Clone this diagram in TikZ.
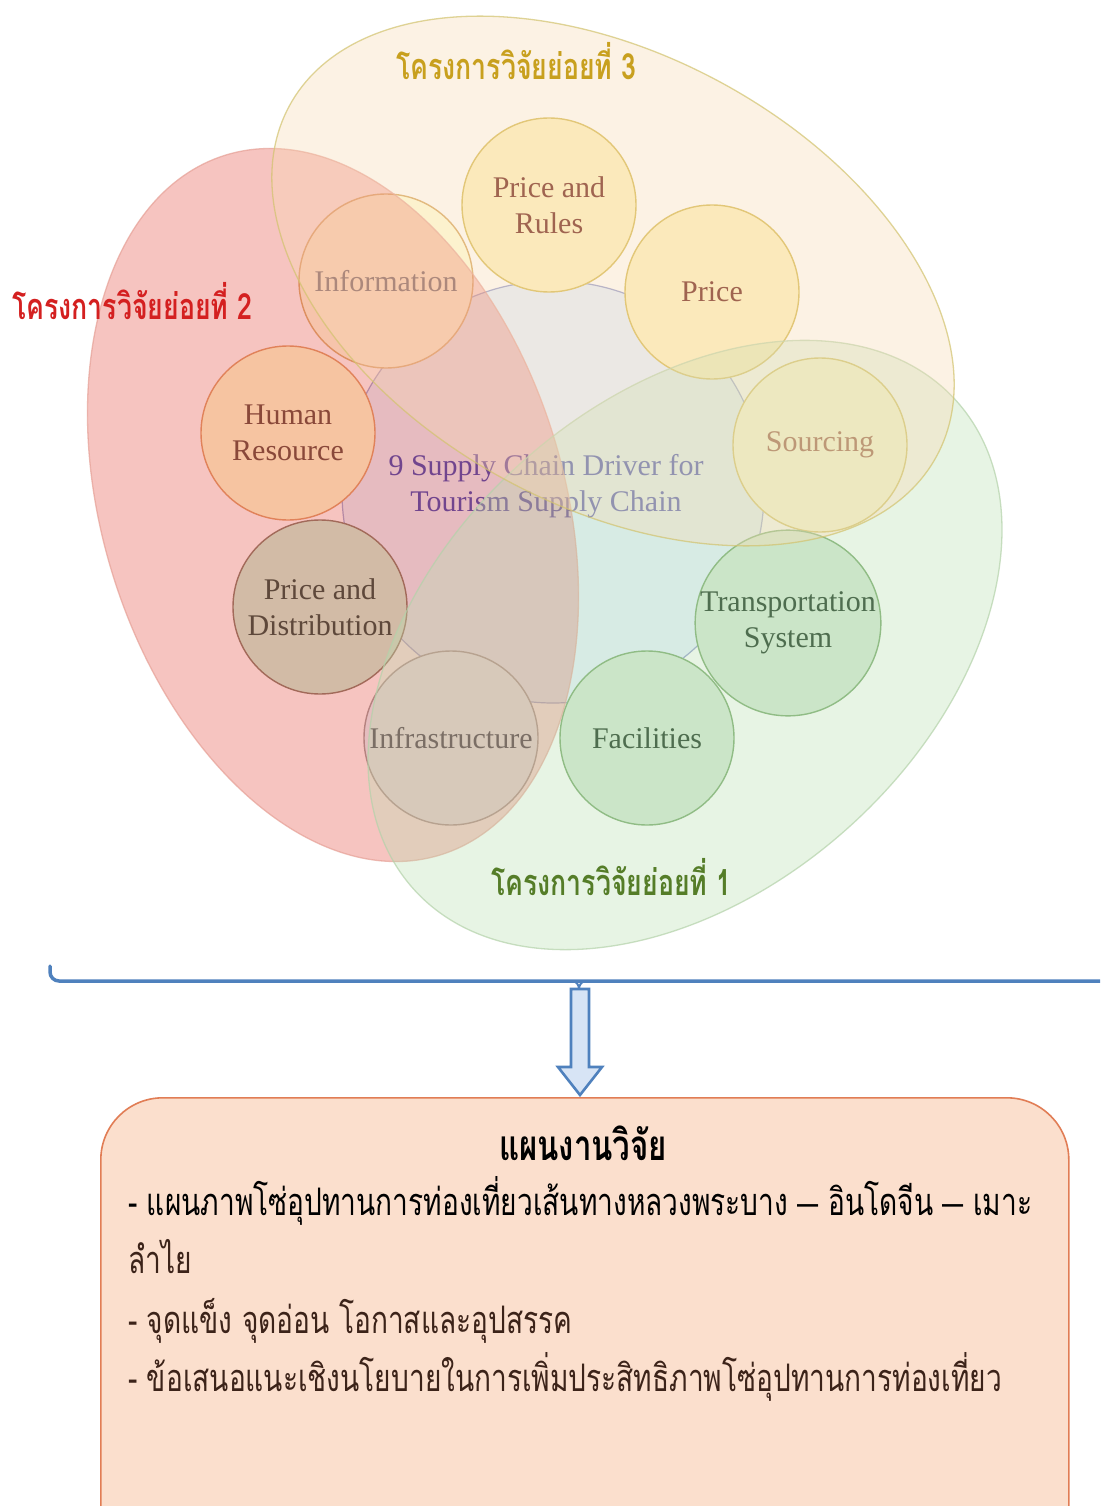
\documentclass[tikz,border=0pt]{standalone}
\usepackage{fontspec}
\usepackage{graphicx}
\setmainfont{Liberation Serif}
\newfontfamily\thai[Script=Thai,FakeStretch=0.74]{Loma}
\newfontfamily\lsans{Liberation Sans}
\usetikzlibrary{calc}
\definecolor{cenfill}{RGB}{229,241,255}
\definecolor{cenline}{RGB}{150,160,210}
\definecolor{yelfill}{RGB}{253,242,193}
\definecolor{yelline}{RGB}{215,190,90}
\definecolor{yeltxt}{RGB}{112,37,28}
\definecolor{srcfill}{RGB}{255,250,212}
\definecolor{srctxt}{RGB}{140,60,40}
\definecolor{inffill}{RGB}{255,255,222}
\definecolor{infline}{RGB}{215,170,100}
\definecolor{inftxt}{RGB}{70,90,100}
\definecolor{hrfill}{RGB}{255,255,205}
\definecolor{hrline}{RGB}{220,150,90}
\definecolor{hrtxt}{RGB}{80,55,38}
\definecolor{pdfill}{RGB}{197,242,213}
\definecolor{pdline}{RGB}{120,110,90}
\definecolor{pdtxt}{RGB}{10,55,40}
\definecolor{irfill}{RGB}{228,245,254}
\definecolor{irline}{RGB}{150,150,150}
\definecolor{irtxt}{RGB}{0,20,44}
\definecolor{grfill}{RGB}{212,233,212}
\definecolor{grline}{RGB}{120,170,110}
\definecolor{grtxt}{RGB}{20,48,27}
\definecolor{ctxt}{RGB}{40,50,175}
\definecolor{redov}{RGB}{232,100,90}
\definecolor{redln}{RGB}{230,160,150}
\definecolor{greenov}{RGB}{189,224,178}
\definecolor{greenln}{RGB}{180,210,170}
\definecolor{creamov}{RGB}{249,218,178}
\definecolor{creamln}{RGB}{210,195,110}
\definecolor{labthree}{RGB}{200,160,30}
\definecolor{labtwo}{RGB}{212,32,32}
\definecolor{labone}{RGB}{85,125,40}
\definecolor{bracketblue}{RGB}{79,129,189}
\definecolor{arrowfill}{RGB}{215,228,245}
\definecolor{planfill}{RGB}{251,223,205}
\definecolor{planline}{RGB}{225,125,85}
\definecolor{plantxt}{RGB}{60,35,25}
\newsavebox\lineonebox
\newsavebox\labelbox
\newlength\lonew
\newlength\labw
\begin{document}
\sbox\lineonebox{\thai\fontsize{30}{36}\selectfont - แผนภาพโซ่อุปทานการท่องเที่ยวเส้นทางหลวงพระบาง {\lsans –} อินโดจีน {\lsans –} เมาะ}%
\setlength\lonew{\wd\lineonebox}%
\pgfmathsetmacro\bfac{904/\lonew}%
\sbox\labelbox{\thai\bfseries\fontsize{30}{36}\selectfont โครงการวิจัยย่อยที่ 3}%
\setlength\labw{\wd\labelbox}%
\pgfmathsetmacro\lfac{240/\labw}%
\begin{tikzpicture}[x=1pt,y=-1pt,
  bub/.style={circle, minimum size=174pt, inner sep=0pt, align=center,
    line width=1.4pt, font=\fontsize{30}{36}\selectfont},
  ovfill/.style={fill opacity=#1, draw opacity=0.7, line width=1.3pt},
  bracket/.style={draw=bracketblue, line width=3.5pt, line cap=round},
  plantext/.style={anchor=base west, inner sep=0pt, text=plantxt},
  lab/.style={anchor=base west, inner sep=0pt}]
\useasboundingbox (0,0) rectangle (1100,1506);
\clip (0,0) rectangle (1100,1506);
\fill[white] (0,0) rectangle (1100,1506);

% central circle
\node[circle, minimum size=422pt, inner sep=0pt, fill=cenfill, draw=cenline, line width=1.2pt] (hub) at (553,492) {};

% nine driver circles
\node[bub, fill=yelfill, draw=yelline, text=yeltxt] (rules) at (549,205) {Price and\\Rules};
\node[bub, fill=yelfill, draw=yelline, text=yeltxt] (price) at (712,292) {Price};
\node[bub, fill=srcfill, draw=yelline, text=srctxt] (sourcing) at (820,445) {Sourcing};
\node[bub, fill=grfill, draw=grline, text=grtxt] (transport) at (788,623) {Transportation\\System};
\node[bub, fill=grfill, draw=grline, text=grtxt] (facil) at (647,738) {Facilities};
\node[bub, fill=irfill, draw=irline, text=irtxt] (infra) at (451,738) {Infrastructure};
\node[bub, fill=pdfill, draw=pdline, text=pdtxt] (pdist) at (320,607) {Price and\\Distribution};
\node[bub, fill=hrfill, draw=hrline, text=hrtxt] (human) at (288,433) {Human\\Resource};
\node[bub, fill=inffill, draw=infline, text=inftxt] (info) at (386,281) {Information};

\node[align=center, inner sep=0pt, text=ctxt, font=\fontsize{30}{36}\selectfont] (ctext) at (546,486) {9 Supply Chain Driver for\\Tourism Supply Chain};

% project ellipses (semi-transparent overlays)
\filldraw[ovfill=0.38, fill=redov, draw=redln, rotate around={17:(333,505)}] (333,505) ellipse [x radius=231, y radius=366];
\filldraw[ovfill=0.35, fill=greenov, draw=greenln, rotate around={42:(685,645)}] (685,645) ellipse [x radius=365, y radius=245];
\filldraw[ovfill=0.35, fill=creamov, draw=creamln, rotate around={-28.4:(613,281)}] (613,281) ellipse [x radius=368, y radius=226];

% project labels
\node[lab, text=labthree] (lab3) at (396,80) {\scalebox{\lfac}{\thai\bfseries\fontsize{30}{36}\selectfont โครงการวิจัยย่อยที่ 3}};
\node[lab, text=labtwo] (lab2) at (12,319) {\scalebox{\lfac}{\thai\bfseries\fontsize{30}{36}\selectfont โครงการวิจัยย่อยที่ 2}};
\node[lab, text=labone] (lab1) at (491,895) {\scalebox{\lfac}{\thai\bfseries\fontsize{30}{36}\selectfont โครงการวิจัยย่อยที่ 1}};

% bracket
\coordinate (bl) at (50,966);
\coordinate (bc) at (579,981);
\coordinate (br) at (1110,981);
\coordinate (bt) at (579,989);
\draw[bracket, rounded corners=9pt] (bl) -- (50,981) -- (br);
\draw[bracketblue, line width=2pt] ($(bc)+(-7,0)$) to[out=0,in=90] (bt);
\draw[bracketblue, line width=2pt] ($(bc)+(7,0)$) to[out=180,in=90] (bt);

% plan box
\node[draw=planline, fill=planfill, line width=1.6pt, rounded corners=62pt,
  minimum width=968pt, minimum height=470pt, anchor=north west, inner sep=0pt] (plan) at (100,1097) {};

% hollow arrow
\coordinate (atop) at (580,989);
\coordinate (atip) at (580,1095);
\filldraw[draw=bracketblue, fill=arrowfill, line width=2.6pt, line join=miter]
  ($(atop)+(-9,0)$) -- ($(atop)+(9,0)$) -- ($(atop)+(9,78)$) -- ($(atop)+(22,78)$) -- (atip)
  -- ($(atop)+(-22,78)$) -- ($(atop)+(-9,78)$) -- cycle;

% plan text
\node[anchor=base, inner sep=0pt] (ptitle) at (583,1160) {\resizebox{168pt}{!}{\thai\bfseries\fontsize{30}{36}\selectfont แผนงานวิจัย}};
\node[plantext] (p1) at (128,1215) {\scalebox{\bfac}{\usebox\lineonebox}};
\node[plantext] (p2) at (128,1273) {\scalebox{\bfac}{\thai\fontsize{30}{36}\selectfont ลำไย}};
\node[plantext] (p3) at (128,1333) {\scalebox{\bfac}{\thai\fontsize{30}{36}\selectfont - จุดแข็ง จุดอ่อน โอกาสและอุปสรรค}};
\node[plantext] (p4) at (128,1391) {\scalebox{\bfac}{\thai\fontsize{30}{36}\selectfont - ข้อเสนอแนะเชิงนโยบายในการเพิ่มประสิทธิภาพโซ่อุปทานการท่องเที่ยว}};
\end{tikzpicture}
\end{document}
